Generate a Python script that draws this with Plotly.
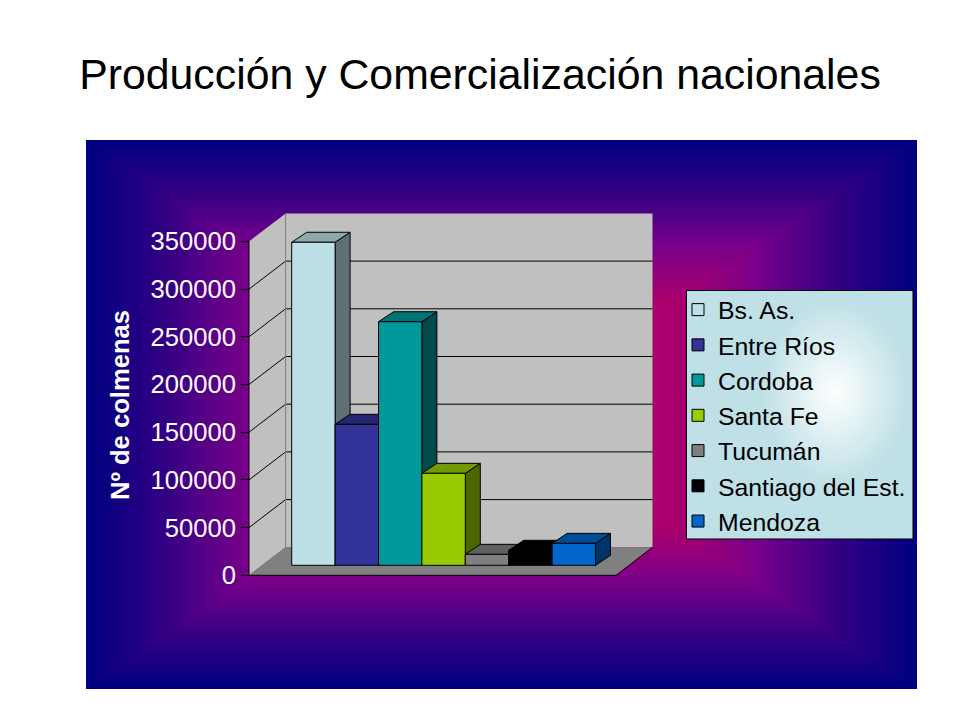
import plotly.graph_objects as go

CATEGORIES = ["Bs. As.", "Entre Ríos", "Cordoba", "Santa Fe", "Tucumán", "Santiago del Est.", "Mendoza"]
VALUES = [338600, 147800, 255300, 96400, 11500, 15700, 23000]
BAR_COLORS = [(189, 224, 230), (51, 51, 153), (0, 153, 153), (153, 204, 0), (128, 128, 128), (0, 0, 0), (0, 102, 204)]
TICK_VALUES = [0, 50000, 100000, 150000, 200000, 250000, 300000, 350000]
TITLE = "Producción y Comercialización nacionales"
Y_TITLE = "Nº de colmenas"

W, H = 960, 720
PAGE_OFFSET = 8  # the page body margin
UNIT_PER_PX = 50000 / 47.7
CAT_PX = 43.4
CAT0_PX = 313.4 - PAGE_OFFSET
BAR_BASE_PX = 565.3 - PAGE_OFFSET
FRONT_BASE_PX = 575.3
BACK_BASE_PX = 547.3
TICK_BASE_PX = FRONT_BASE_PX - PAGE_OFFSET
DEPTH_X = 15 / CAT_PX
DEPTH_Y = 10 * UNIT_PER_PX

X_RANGE = [-CAT0_PX / CAT_PX, (W - CAT0_PX) / CAT_PX]
Y_RANGE = [-(H - BAR_BASE_PX) * UNIT_PER_PX, BAR_BASE_PX * UNIT_PER_PX]
TICK_RANGE = [-(H - TICK_BASE_PX) * UNIT_PER_PX, TICK_BASE_PX * UNIT_PER_PX]


def rgb(c, f=1.0):
    return "rgb(%d,%d,%d)" % tuple(round(v * f) for v in c)


def px(x):
    return (x - PAGE_OFFSET) / W


def py(y):
    return 1 - (y - PAGE_OFFSET) / H


def rect(x0, y0, x1, y1, fill, line=None, kind="rect"):
    return dict(type=kind, xref="paper", yref="paper", layer="below",
                x0=px(x0), x1=px(x1), y0=py(y0), y1=py(y1), fillcolor=fill,
                line=dict(color=line or fill, width=1 if line else 0))


def poly(points, fill, line=None):
    d = "M" + " L".join("%.5f,%.5f" % (px(a), py(b)) for a, b in points) + " Z"
    return dict(type="path", xref="paper", yref="paper", layer="below", path=d, fillcolor=fill,
                line=dict(color=line or fill, width=1 if line else 0))


def seg(x0, y0, x1, y1, color="black", width=1):
    return dict(type="line", xref="paper", yref="paper", layer="below",
                x0=px(x0), x1=px(x1), y0=py(y0), y1=py(y1), line=dict(color=color, width=width))


# background rectangular gradient
STOPS = [(0.0, (185, 0, 105)), (0.42, (170, 0, 110)), (0.62, (120, 0, 138)), (0.8, (55, 0, 132)), (1.0, (0, 0, 128))]


def grad(t):
    for (a, ca), (b, cb) in zip(STOPS, STOPS[1:]):
        if t <= b:
            f = (t - a) / (b - a)
            return tuple(p + (q - p) * f for p, q in zip(ca, cb))
    return STOPS[-1][1]


shapes = []
BX0, BY0, BX1, BY1 = 86, 140, 917, 689
cx, cy = (BX0 + BX1) / 2, (BY0 + BY1) / 2
STEPS = 110
for i in range(STEPS):
    t = 1 - i / STEPS
    shapes.append(rect(cx - (cx - BX0) * t, cy - (cy - BY0) * t, cx + (BX1 - cx) * t, cy + (BY1 - cy) * t, rgb(grad(t))))

# walls and floor
WALL_H = 7 * 47.7
shapes.append(rect(285.6, BACK_BASE_PX - WALL_H, 652.5, BACK_BASE_PX, "rgb(192,192,192)"))
shapes.append(poly([(249, FRONT_BASE_PX), (285.6, BACK_BASE_PX), (285.6, BACK_BASE_PX - WALL_H), (249, FRONT_BASE_PX - WALL_H)], "rgb(192,192,192)"))
shapes.append(poly([(249, FRONT_BASE_PX), (285.6, BACK_BASE_PX), (652.5, BACK_BASE_PX), (616, FRONT_BASE_PX)], "rgb(128,128,128)"))
for v in TICK_VALUES[1:-1]:
    d = v / UNIT_PER_PX
    shapes.append(seg(249, FRONT_BASE_PX - d, 285.6, BACK_BASE_PX - d))
    shapes.append(seg(285.6, BACK_BASE_PX - d, 652.5, BACK_BASE_PX - d))
shapes.append(seg(285.6, BACK_BASE_PX - WALL_H, 285.6, BACK_BASE_PX, "rgb(128,128,128)"))
shapes.append(seg(249, FRONT_BASE_PX - WALL_H, 249, FRONT_BASE_PX))
shapes.append(seg(249, FRONT_BASE_PX, 616, FRONT_BASE_PX))
shapes.append(seg(616, FRONT_BASE_PX, 652.5, BACK_BASE_PX))

# legend panel
LX0, LY0, LX1, LY1 = 686.5, 290.5, 913, 539
BASE = (190, 224, 230)
shapes.append(rect(LX0, LY0, LX1, LY1, rgb(BASE)))
HOT = (835, 392)
for i in range(30):
    t = 1 - i / 30
    c = tuple(255 + (b - 255) * t for b in BASE)
    shapes.append(rect(HOT[0] - 75 * t, HOT[1] - 95 * t, HOT[0] + 75 * t, HOT[1] + 95 * t, rgb(c), kind="circle"))
shapes.append(dict(type="rect", xref="paper", yref="paper", layer="below",
                   x0=px(LX0), x1=px(LX1), y0=py(LY0), y1=py(LY1),
                   line=dict(color="black", width=1), fillcolor="rgba(0,0,0,0)"))

fig = go.Figure()

# side and top faces, left to right
for i, (v, c) in enumerate(zip(VALUES, BAR_COLORS)):
    l, r = i - 0.5, i + 0.5
    fig.add_trace(go.Scatter(x=[r, r + DEPTH_X, r + DEPTH_X, r, r], y=[0, DEPTH_Y, v + DEPTH_Y, v, 0],
                             mode="lines", fill="toself", fillcolor=rgb(c, 0.5), line=dict(color="black", width=1),
                             showlegend=False, hoverinfo="skip"))
    fig.add_trace(go.Scatter(x=[l, l + DEPTH_X, r + DEPTH_X, r, l], y=[v, v + DEPTH_Y, v + DEPTH_Y, v, v],
                             mode="lines", fill="toself", fillcolor=rgb(c, 0.75), line=dict(color="black", width=1),
                             showlegend=False, hoverinfo="skip"))

# front faces
for i, (name, v, c) in enumerate(zip(CATEGORIES, VALUES, BAR_COLORS)):
    fig.add_trace(go.Bar(x=[i], y=[v], width=1, name=name, legendgroup=name, xaxis="x2", yaxis="y2",
                         marker=dict(color=rgb(c), line=dict(color="black", width=1))))

# carrier of the value axis
fig.add_trace(go.Scatter(x=[0] * len(TICK_VALUES), y=TICK_VALUES, yaxis="y3", mode="markers",
                         marker=dict(opacity=0), showlegend=False, hoverinfo="skip"))

hidden = dict(visible=False, showgrid=False, zeroline=False)
fig.update_layout(
    width=W, height=H, autosize=False, template=None,
    margin=dict(l=0, r=0, t=0, b=0),
    paper_bgcolor="white", plot_bgcolor="rgba(0,0,0,0)",
    barmode="overlay",
    font=dict(family="Liberation Sans, Arial, sans-serif"),
    title=dict(text=TITLE, x=px(480), xanchor="center", y=py(74), yanchor="middle",
               font=dict(size=42.8, color="black", family="Liberation Sans, Arial, sans-serif")),
    xaxis=dict(range=X_RANGE, domain=[0, 1], **hidden),
    yaxis=dict(range=Y_RANGE, domain=[0, 1], **hidden),
    xaxis2=dict(range=X_RANGE, domain=[0, 1], overlaying="x", anchor="y2", **hidden),
    yaxis2=dict(range=Y_RANGE, domain=[0, 1], overlaying="y", anchor="x2", **hidden),
    yaxis3=dict(range=TICK_RANGE, domain=[0, 1], overlaying="y", anchor="free", position=px(249), side="left",
                tickmode="array", tickvals=TICK_VALUES, ticktext=[str(t) for t in TICK_VALUES],
                ticks="outside", ticklen=8, tickcolor="black", tickwidth=1,
                tickfont=dict(size=25.6, color="white"), showgrid=False, zeroline=False, showline=False),
    legend=dict(x=px(678), xanchor="left", y=py(287), yanchor="top", bgcolor="rgba(0,0,0,0)", borderwidth=0,
                font=dict(size=24.8, color="black"), traceorder="normal", tracegroupgap=8, itemclick=False, itemdoubleclick=False),
    annotations=[dict(text="<b>%s</b>" % Y_TITLE, x=px(120), y=py(405), xref="paper", yref="paper", textangle=-90,
                      showarrow=False, xanchor="center", yanchor="middle", font=dict(size=25.6, color="white"))],
    shapes=shapes,
)

fig.write_html("out.html", config=dict(displayModeBar=False))
